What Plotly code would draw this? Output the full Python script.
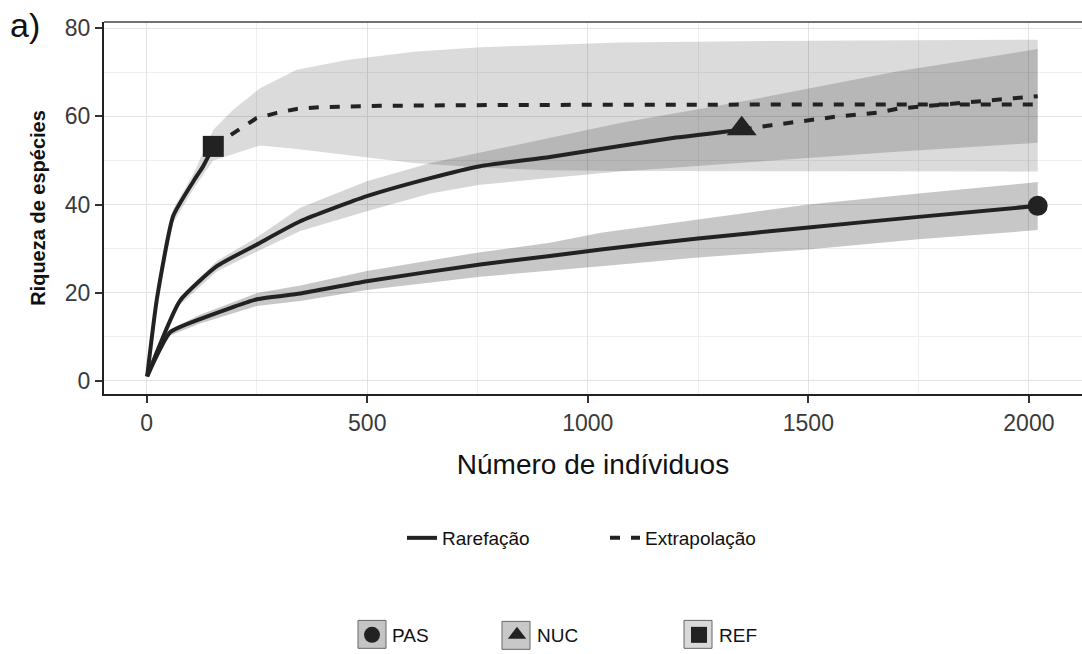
import plotly.graph_objects as go

# ---------------- data ----------------
# PAS (rarefaction only)
pas_x = [1, 53, 121, 250, 348, 499, 756, 914, 1030, 1250, 1500, 1750, 2020]
pas_y = [1, 11, 14, 18.5, 19.8, 22.6, 26.4, 28.3, 29.8, 32.3, 34.8, 37.2, 39.7]
pas_lo = [1, 10.3, 13, 17.0, 18.1, 20.6, 23.6, 25.0, 26.0, 28.0, 29.8, 32.1, 34.2]
pas_hi = [1, 11.7, 15, 19.9, 21.6, 24.9, 29.2, 31.3, 33.6, 36.6, 40.0, 42.5, 45.1]

# NUC
nuc_rx = [1, 75, 159, 249, 348, 499, 643, 756, 914, 1073, 1200, 1349]
nuc_ry = [1, 18.1, 26, 30.9, 36.2, 41.9, 46.0, 48.7, 50.8, 53.3, 55.2, 57.0]
nuc_ex = [1349, 1416, 1560, 1660, 1705, 1802, 1900, 2020]
nuc_ey = [57.0, 58.0, 59.9, 60.9, 61.8, 62.7, 63.6, 64.6]
nuc_bx = [1, 75, 159, 249, 348, 499, 643, 756, 914, 1073, 1349, 1700, 2020]
nuc_lo = [1, 17.2, 24.8, 29.3, 34.0, 38.5, 42.5, 44.5, 46.0, 47.5, 49.5, 52.0, 54.0]
nuc_hi = [1, 19.0, 27.2, 32.5, 39.3, 45.3, 49.4, 51.8, 55.0, 58.5, 63.4, 70.2, 75.3]

# REF
ref_rx = [1, 23, 60, 106, 128, 151]
ref_ry = [1, 18.5, 37.4, 45.3, 48.7, 53.2]
ref_ex = [151, 196, 249, 295, 340, 393, 529, 800, 1058, 1500, 2020]
ref_ey = [53.2, 56.2, 59.6, 60.8, 61.7, 62.1, 62.4, 62.6, 62.7, 62.7, 62.7]
ref_bx = [1, 23, 60, 106, 151, 196, 257, 340, 454, 605, 756, 907, 1073, 1500, 2020]
ref_lo = [1, 17.5, 35.8, 43.5, 50.0, 51.5, 53.4, 52.6, 51.2, 49.4, 48.4, 47.8, 47.6, 47.5, 47.5]
ref_hi = [1, 19.5, 39.0, 47.0, 57.0, 61.5, 66.4, 70.6, 72.8, 74.7, 75.7, 76.2, 76.8, 77.2, 77.4]

groups = ["PAS", "NUC", "REF"]
symbols = ["circle", "triangle-up", "square"]
obs_x = [2020, 1349, 151]
obs_y = [39.7, 57.2, 53.2]

x_ticks = [0, 500, 1000, 1500, 2000]
y_ticks = [0, 20, 40, 60, 80]

# ---------------- styling ----------------
FONT = "Liberation Sans, Arial, sans-serif"
LINE = "#222222"
band_fill = {"PAS": "rgba(0,0,0,0.22)", "NUC": "rgba(0,0,0,0.16)", "REF": "rgba(0,0,0,0.14)"}

fig = go.Figure()

bands = {"PAS": (pas_x, pas_lo, pas_hi), "NUC": (nuc_bx, nuc_lo, nuc_hi), "REF": (ref_bx, ref_lo, ref_hi)}
for g in groups:
    bx, lo, hi = bands[g]
    fig.add_trace(go.Scatter(
        x=list(bx) + list(bx)[::-1], y=list(hi) + list(lo)[::-1],
        fill="toself", fillcolor=band_fill[g], line=dict(width=0),
        mode="lines", showlegend=False, hoverinfo="skip"))

# rarefaction lines
rare = {"PAS": (pas_x, pas_y), "NUC": (nuc_rx, nuc_ry), "REF": (ref_rx, ref_ry)}
for i, g in enumerate(groups):
    rx, ry = rare[g]
    fig.add_trace(go.Scatter(
        x=rx, y=ry, mode="lines", line=dict(color=LINE, width=4, shape="spline", smoothing=0.5),
        name="Rarefação", legend="legend", showlegend=(i == 0)))

# extrapolation lines
extra = {"NUC": (nuc_ex, nuc_ey), "REF": (ref_ex, ref_ey)}
for i, g in enumerate(["NUC", "REF"]):
    ex, ey = extra[g]
    fig.add_trace(go.Scatter(
        x=ex, y=ey, mode="lines", line=dict(color=LINE, width=4, dash="10px,11px"),
        name="Extrapolação", legend="legend5", showlegend=(i == 0)))

# observed points
msize = {"PAS": 20, "NUC": 26, "REF": 21}
for g, s, ox, oy in zip(groups, symbols, obs_x, obs_y):
    fig.add_trace(go.Scatter(
        x=[ox], y=[oy], mode="markers",
        marker=dict(symbol=s, size=msize[g], color=LINE),
        showlegend=False))

# legend entries for shapes
for g, s, lg in zip(groups, symbols, ["legend2", "legend3", "legend4"]):
    fig.add_trace(go.Scatter(
        x=[None], y=[None], mode="markers",
        marker=dict(symbol=s, size=16, color=LINE),
        name=g, legend=lg, showlegend=True))

L, T, R, B = 104, 22, 1082, 395
W, H = R - L, B - T

def px(xp):
    return (xp - L) / W

def py(yp):
    return (B - yp) / H

leg_common = dict(orientation="h", yanchor="middle", xanchor="left",
                  bgcolor="rgba(0,0,0,0)", font=dict(family=FONT, size=19, color="#111"))

# key boxes behind shape legend symbols
shapes = []
for cx, cy, fc in [(372, 636, "#c4c4c4"), (516, 637, "#c8c8c8"), (698, 636, "#d9d9d9")]:
    shapes.append(dict(type="rect", xref="paper", yref="paper",
                       x0=px(cx - 14), x1=px(cx + 14), y0=py(cy + 14), y1=py(cy - 14),
                       fillcolor=fc, line=dict(color="#666", width=1), layer="above"))
# top border
shapes.append(dict(type="line", xref="paper", yref="paper", x0=0, x1=1, y0=1, y1=1,
                   line=dict(color="#444", width=1.5)))

fig.update_layout(
    width=1082, height=654,
    margin=dict(l=L, r=1082 - R, t=T, b=654 - B),
    paper_bgcolor="white", plot_bgcolor="white",
    font=dict(family=FONT, color="#222"),
    showlegend=True,
    legend=dict(x=px(402), y=py(538), **leg_common),
    legend5=dict(x=px(605), y=py(538), **leg_common),
    legend2=dict(x=px(352), y=py(636), **leg_common),
    legend3=dict(x=px(497), y=py(636), **leg_common),
    legend4=dict(x=px(679), y=py(636), **leg_common),
    shapes=shapes,
    annotations=[dict(text="a)", xref="paper", yref="paper", x=px(8), y=py(25),
                      xanchor="left", yanchor="middle", showarrow=False,
                      font=dict(family=FONT, size=34, color="#111"))],
)

fig.update_xaxes(
    range=[-96.8, 2120.4], tickvals=x_ticks, ticktext=[str(v) for v in x_ticks],
    showgrid=True, gridcolor="#e3e3e3", gridwidth=1.3,
    minor=dict(dtick=250, tick0=0, showgrid=True, gridcolor="#efefef", gridwidth=1),
    zeroline=False, showline=True, linecolor="#222", linewidth=2,
    ticks="outside", ticklen=7, tickwidth=1.5, tickcolor="#333",
    tickfont=dict(family=FONT, size=23, color="#3a3a3a"),
    title=dict(text="Número de indíviduos", font=dict(family=FONT, size=28, color="#111"), standoff=20),
)
fig.update_yaxes(
    range=[-3.0, 81.43], tickvals=y_ticks, ticktext=[str(v) for v in y_ticks],
    showgrid=True, gridcolor="#e3e3e3", gridwidth=1.3,
    minor=dict(dtick=10, tick0=0, showgrid=True, gridcolor="#efefef", gridwidth=1),
    zeroline=False, showline=True, linecolor="#222", linewidth=2,
    ticks="outside", ticklen=7, tickwidth=1.5, tickcolor="#333",
    tickfont=dict(family=FONT, size=23, color="#3a3a3a"),
    title=dict(text="<b>Riqueza de espécies</b>", font=dict(family=FONT, size=20, color="#111"), standoff=14),
)

fig.write_html("out.html")
